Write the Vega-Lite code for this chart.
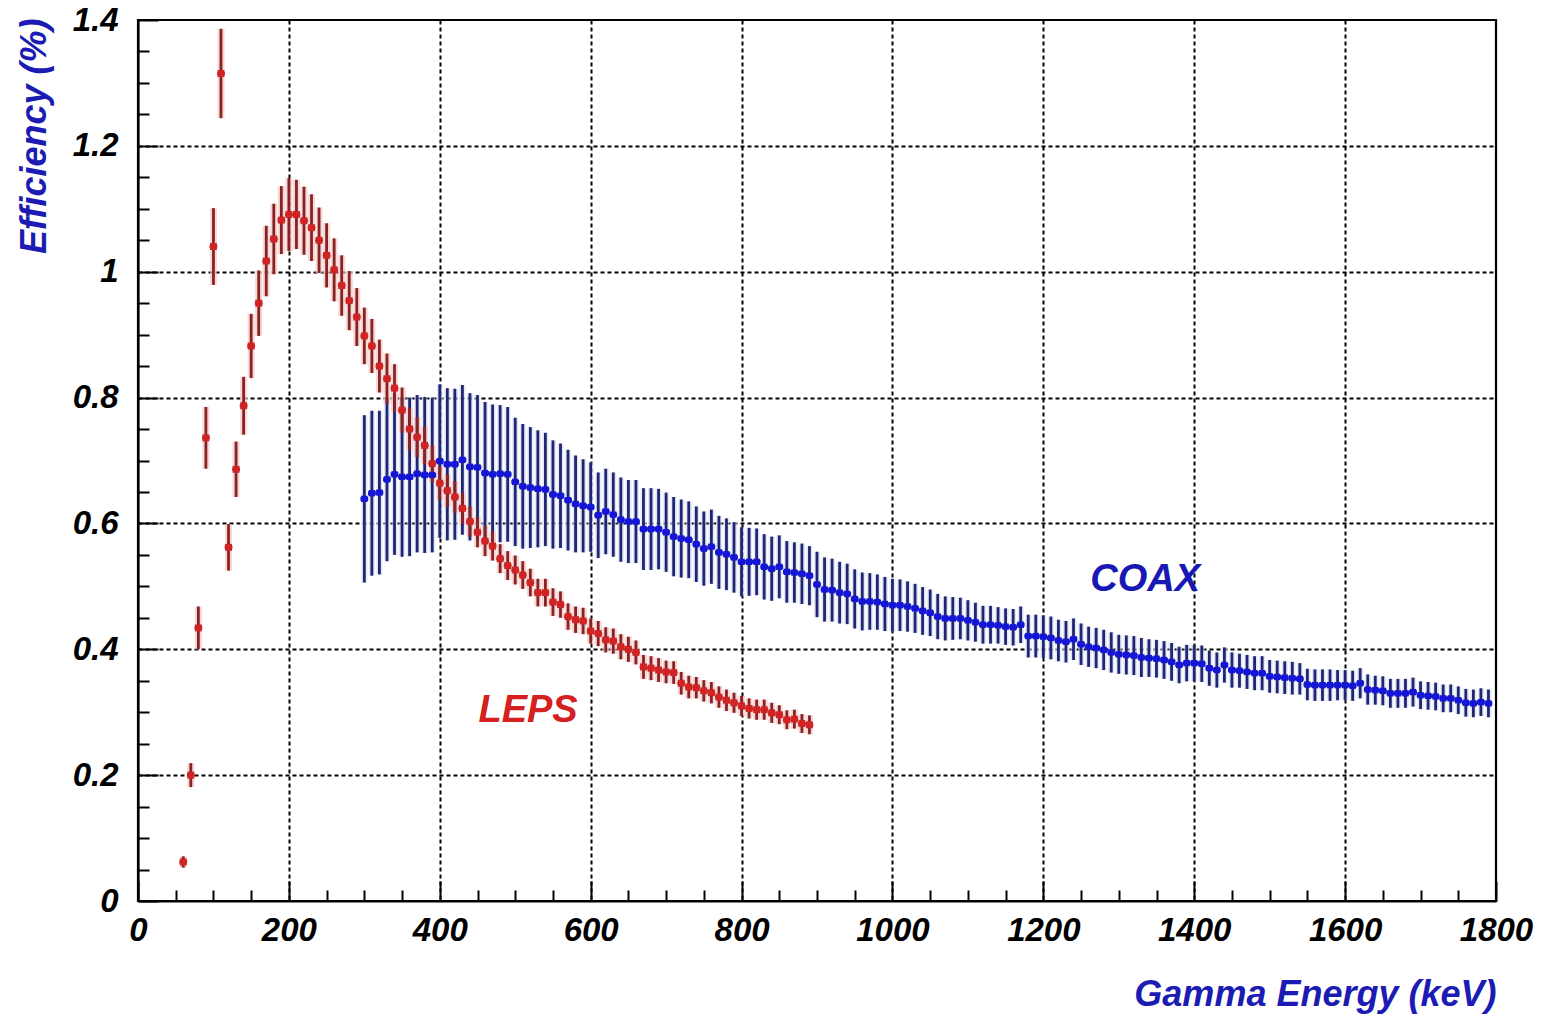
{
  "$schema": "https://vega.github.io/schema/vega-lite/v6.json",
  "width": 1358,
  "height": 881,
  "autosize": {"type": "none"},
  "padding": {"left": 138, "top": 20, "right": 62, "bottom": 116},
  "background": "white",
  "config": {
    "view": {"stroke": "black", "strokeWidth": 2.2},
    "axis": {
      "labelFont": "Liberation Sans",
      "labelFontWeight": "bold",
      "labelFontStyle": "italic",
      "labelFontSize": 33,
      "labelColor": "black",
      "titleFont": "Liberation Sans",
      "titleFontWeight": "bold",
      "titleFontStyle": "italic",
      "titleFontSize": 36,
      "titleColor": "#1c1cb4",
      "domainColor": "black",
      "domainWidth": 2.2,
      "tickColor": "black",
      "tickWidth": 2,
      "gridColor": "black",
      "gridDash": [4, 3],
      "gridWidth": 2
    }
  },
  "datasets": {
    "leps": [
      {"E": 60, "eff": 0.062, "err": 0.009},
      {"E": 70, "eff": 0.200, "err": 0.019},
      {"E": 80, "eff": 0.434, "err": 0.034},
      {"E": 90, "eff": 0.736, "err": 0.049},
      {"E": 100, "eff": 1.040, "err": 0.061},
      {"E": 110, "eff": 1.315, "err": 0.071},
      {"E": 120, "eff": 0.562, "err": 0.037},
      {"E": 130, "eff": 0.686, "err": 0.044},
      {"E": 140, "eff": 0.787, "err": 0.046},
      {"E": 150, "eff": 0.882, "err": 0.051},
      {"E": 160, "eff": 0.950, "err": 0.052},
      {"E": 170, "eff": 1.017, "err": 0.056},
      {"E": 180, "eff": 1.052, "err": 0.056},
      {"E": 190, "eff": 1.082, "err": 0.054},
      {"E": 200, "eff": 1.091, "err": 0.058},
      {"E": 210, "eff": 1.091, "err": 0.055},
      {"E": 220, "eff": 1.081, "err": 0.054},
      {"E": 230, "eff": 1.070, "err": 0.053},
      {"E": 240, "eff": 1.050, "err": 0.052},
      {"E": 250, "eff": 1.026, "err": 0.051},
      {"E": 260, "eff": 1.003, "err": 0.050},
      {"E": 270, "eff": 0.978, "err": 0.048},
      {"E": 280, "eff": 0.954, "err": 0.047},
      {"E": 290, "eff": 0.928, "err": 0.046},
      {"E": 300, "eff": 0.898, "err": 0.045},
      {"E": 310, "eff": 0.882, "err": 0.043},
      {"E": 320, "eff": 0.850, "err": 0.042},
      {"E": 330, "eff": 0.830, "err": 0.040},
      {"E": 340, "eff": 0.815, "err": 0.038},
      {"E": 350, "eff": 0.780, "err": 0.036},
      {"E": 360, "eff": 0.750, "err": 0.034},
      {"E": 370, "eff": 0.737, "err": 0.032},
      {"E": 380, "eff": 0.724, "err": 0.030},
      {"E": 390, "eff": 0.695, "err": 0.029},
      {"E": 400, "eff": 0.664, "err": 0.027},
      {"E": 410, "eff": 0.652, "err": 0.026},
      {"E": 420, "eff": 0.642, "err": 0.025},
      {"E": 430, "eff": 0.624, "err": 0.025},
      {"E": 440, "eff": 0.603, "err": 0.024},
      {"E": 450, "eff": 0.586, "err": 0.024},
      {"E": 460, "eff": 0.572, "err": 0.024},
      {"E": 470, "eff": 0.564, "err": 0.023},
      {"E": 480, "eff": 0.544, "err": 0.023},
      {"E": 490, "eff": 0.533, "err": 0.023},
      {"E": 500, "eff": 0.526, "err": 0.023},
      {"E": 510, "eff": 0.518, "err": 0.022},
      {"E": 520, "eff": 0.506, "err": 0.022},
      {"E": 530, "eff": 0.490, "err": 0.022},
      {"E": 540, "eff": 0.490, "err": 0.022},
      {"E": 550, "eff": 0.475, "err": 0.022},
      {"E": 560, "eff": 0.471, "err": 0.021},
      {"E": 570, "eff": 0.452, "err": 0.021},
      {"E": 580, "eff": 0.447, "err": 0.021},
      {"E": 590, "eff": 0.445, "err": 0.021},
      {"E": 600, "eff": 0.429, "err": 0.020},
      {"E": 610, "eff": 0.425, "err": 0.020},
      {"E": 620, "eff": 0.415, "err": 0.020},
      {"E": 630, "eff": 0.413, "err": 0.020},
      {"E": 640, "eff": 0.404, "err": 0.020},
      {"E": 650, "eff": 0.400, "err": 0.020},
      {"E": 660, "eff": 0.395, "err": 0.019},
      {"E": 670, "eff": 0.372, "err": 0.019},
      {"E": 680, "eff": 0.370, "err": 0.019},
      {"E": 690, "eff": 0.367, "err": 0.019},
      {"E": 700, "eff": 0.364, "err": 0.018},
      {"E": 710, "eff": 0.363, "err": 0.018},
      {"E": 720, "eff": 0.346, "err": 0.018},
      {"E": 730, "eff": 0.340, "err": 0.018},
      {"E": 740, "eff": 0.339, "err": 0.017},
      {"E": 750, "eff": 0.334, "err": 0.017},
      {"E": 760, "eff": 0.331, "err": 0.017},
      {"E": 770, "eff": 0.324, "err": 0.017},
      {"E": 780, "eff": 0.319, "err": 0.017},
      {"E": 790, "eff": 0.315, "err": 0.016},
      {"E": 800, "eff": 0.310, "err": 0.016},
      {"E": 810, "eff": 0.306, "err": 0.016},
      {"E": 820, "eff": 0.304, "err": 0.016},
      {"E": 830, "eff": 0.304, "err": 0.016},
      {"E": 840, "eff": 0.299, "err": 0.016},
      {"E": 850, "eff": 0.296, "err": 0.015},
      {"E": 860, "eff": 0.288, "err": 0.015},
      {"E": 870, "eff": 0.289, "err": 0.015},
      {"E": 880, "eff": 0.282, "err": 0.015},
      {"E": 890, "eff": 0.280, "err": 0.015}
    ],
    "coax": [
      {"E": 300, "eff": 0.639, "err": 0.133},
      {"E": 310, "eff": 0.648, "err": 0.131},
      {"E": 320, "eff": 0.649, "err": 0.130},
      {"E": 330, "eff": 0.670, "err": 0.130},
      {"E": 340, "eff": 0.678, "err": 0.128},
      {"E": 350, "eff": 0.674, "err": 0.127},
      {"E": 360, "eff": 0.674, "err": 0.126},
      {"E": 370, "eff": 0.679, "err": 0.125},
      {"E": 380, "eff": 0.677, "err": 0.124},
      {"E": 390, "eff": 0.677, "err": 0.123},
      {"E": 400, "eff": 0.699, "err": 0.122},
      {"E": 410, "eff": 0.694, "err": 0.121},
      {"E": 420, "eff": 0.694, "err": 0.120},
      {"E": 430, "eff": 0.701, "err": 0.119},
      {"E": 440, "eff": 0.690, "err": 0.117},
      {"E": 450, "eff": 0.689, "err": 0.115},
      {"E": 460, "eff": 0.680, "err": 0.113},
      {"E": 470, "eff": 0.678, "err": 0.111},
      {"E": 480, "eff": 0.679, "err": 0.109},
      {"E": 490, "eff": 0.678, "err": 0.107},
      {"E": 500, "eff": 0.666, "err": 0.102},
      {"E": 510, "eff": 0.659, "err": 0.099},
      {"E": 520, "eff": 0.657, "err": 0.096},
      {"E": 530, "eff": 0.655, "err": 0.093},
      {"E": 540, "eff": 0.654, "err": 0.090},
      {"E": 550, "eff": 0.646, "err": 0.086},
      {"E": 560, "eff": 0.644, "err": 0.083},
      {"E": 570, "eff": 0.637, "err": 0.080},
      {"E": 580, "eff": 0.631, "err": 0.077},
      {"E": 590, "eff": 0.628, "err": 0.074},
      {"E": 600, "eff": 0.626, "err": 0.071},
      {"E": 610, "eff": 0.613, "err": 0.068},
      {"E": 620, "eff": 0.619, "err": 0.068},
      {"E": 630, "eff": 0.614, "err": 0.067},
      {"E": 640, "eff": 0.606, "err": 0.067},
      {"E": 650, "eff": 0.603, "err": 0.066},
      {"E": 660, "eff": 0.603, "err": 0.066},
      {"E": 670, "eff": 0.591, "err": 0.065},
      {"E": 680, "eff": 0.591, "err": 0.065},
      {"E": 690, "eff": 0.591, "err": 0.064},
      {"E": 700, "eff": 0.586, "err": 0.063},
      {"E": 710, "eff": 0.579, "err": 0.063},
      {"E": 720, "eff": 0.576, "err": 0.062},
      {"E": 730, "eff": 0.574, "err": 0.061},
      {"E": 740, "eff": 0.567, "err": 0.060},
      {"E": 750, "eff": 0.560, "err": 0.059},
      {"E": 760, "eff": 0.563, "err": 0.059},
      {"E": 770, "eff": 0.554, "err": 0.058},
      {"E": 780, "eff": 0.551, "err": 0.057},
      {"E": 790, "eff": 0.546, "err": 0.056},
      {"E": 800, "eff": 0.539, "err": 0.055},
      {"E": 810, "eff": 0.539, "err": 0.054},
      {"E": 820, "eff": 0.539, "err": 0.053},
      {"E": 830, "eff": 0.531, "err": 0.052},
      {"E": 840, "eff": 0.528, "err": 0.051},
      {"E": 850, "eff": 0.531, "err": 0.050},
      {"E": 860, "eff": 0.523, "err": 0.049},
      {"E": 870, "eff": 0.522, "err": 0.048},
      {"E": 880, "eff": 0.520, "err": 0.048},
      {"E": 890, "eff": 0.517, "err": 0.047},
      {"E": 900, "eff": 0.503, "err": 0.052},
      {"E": 910, "eff": 0.495, "err": 0.051},
      {"E": 920, "eff": 0.494, "err": 0.050},
      {"E": 930, "eff": 0.490, "err": 0.049},
      {"E": 940, "eff": 0.488, "err": 0.048},
      {"E": 950, "eff": 0.480, "err": 0.047},
      {"E": 960, "eff": 0.476, "err": 0.046},
      {"E": 970, "eff": 0.476, "err": 0.045},
      {"E": 980, "eff": 0.475, "err": 0.044},
      {"E": 990, "eff": 0.472, "err": 0.043},
      {"E": 1000, "eff": 0.470, "err": 0.042},
      {"E": 1010, "eff": 0.470, "err": 0.041},
      {"E": 1020, "eff": 0.468, "err": 0.040},
      {"E": 1030, "eff": 0.465, "err": 0.039},
      {"E": 1040, "eff": 0.461, "err": 0.038},
      {"E": 1050, "eff": 0.458, "err": 0.037},
      {"E": 1060, "eff": 0.452, "err": 0.036},
      {"E": 1070, "eff": 0.449, "err": 0.035},
      {"E": 1080, "eff": 0.449, "err": 0.034},
      {"E": 1090, "eff": 0.449, "err": 0.033},
      {"E": 1100, "eff": 0.446, "err": 0.032},
      {"E": 1110, "eff": 0.443, "err": 0.031},
      {"E": 1120, "eff": 0.439, "err": 0.030},
      {"E": 1130, "eff": 0.439, "err": 0.030},
      {"E": 1140, "eff": 0.438, "err": 0.029},
      {"E": 1150, "eff": 0.436, "err": 0.029},
      {"E": 1160, "eff": 0.435, "err": 0.029},
      {"E": 1170, "eff": 0.439, "err": 0.029},
      {"E": 1180, "eff": 0.421, "err": 0.034},
      {"E": 1190, "eff": 0.421, "err": 0.034},
      {"E": 1200, "eff": 0.420, "err": 0.034},
      {"E": 1210, "eff": 0.418, "err": 0.034},
      {"E": 1220, "eff": 0.414, "err": 0.033},
      {"E": 1230, "eff": 0.412, "err": 0.033},
      {"E": 1240, "eff": 0.416, "err": 0.033},
      {"E": 1250, "eff": 0.408, "err": 0.033},
      {"E": 1260, "eff": 0.404, "err": 0.032},
      {"E": 1270, "eff": 0.402, "err": 0.032},
      {"E": 1280, "eff": 0.399, "err": 0.032},
      {"E": 1290, "eff": 0.395, "err": 0.032},
      {"E": 1300, "eff": 0.392, "err": 0.031},
      {"E": 1310, "eff": 0.391, "err": 0.031},
      {"E": 1320, "eff": 0.390, "err": 0.031},
      {"E": 1330, "eff": 0.387, "err": 0.031},
      {"E": 1340, "eff": 0.386, "err": 0.030},
      {"E": 1350, "eff": 0.385, "err": 0.030},
      {"E": 1360, "eff": 0.383, "err": 0.030},
      {"E": 1370, "eff": 0.380, "err": 0.030},
      {"E": 1380, "eff": 0.375, "err": 0.029},
      {"E": 1390, "eff": 0.378, "err": 0.029},
      {"E": 1400, "eff": 0.378, "err": 0.029},
      {"E": 1410, "eff": 0.377, "err": 0.029},
      {"E": 1420, "eff": 0.370, "err": 0.028},
      {"E": 1430, "eff": 0.367, "err": 0.028},
      {"E": 1440, "eff": 0.375, "err": 0.028},
      {"E": 1450, "eff": 0.367, "err": 0.028},
      {"E": 1460, "eff": 0.366, "err": 0.027},
      {"E": 1470, "eff": 0.364, "err": 0.027},
      {"E": 1480, "eff": 0.362, "err": 0.027},
      {"E": 1490, "eff": 0.362, "err": 0.027},
      {"E": 1500, "eff": 0.357, "err": 0.026},
      {"E": 1510, "eff": 0.356, "err": 0.026},
      {"E": 1520, "eff": 0.355, "err": 0.026},
      {"E": 1530, "eff": 0.354, "err": 0.026},
      {"E": 1540, "eff": 0.353, "err": 0.025},
      {"E": 1550, "eff": 0.344, "err": 0.025},
      {"E": 1560, "eff": 0.343, "err": 0.025},
      {"E": 1570, "eff": 0.343, "err": 0.025},
      {"E": 1580, "eff": 0.343, "err": 0.025},
      {"E": 1590, "eff": 0.343, "err": 0.024},
      {"E": 1600, "eff": 0.343, "err": 0.024},
      {"E": 1610, "eff": 0.342, "err": 0.024},
      {"E": 1620, "eff": 0.346, "err": 0.024},
      {"E": 1630, "eff": 0.336, "err": 0.024},
      {"E": 1640, "eff": 0.335, "err": 0.023},
      {"E": 1650, "eff": 0.334, "err": 0.023},
      {"E": 1660, "eff": 0.330, "err": 0.023},
      {"E": 1670, "eff": 0.330, "err": 0.023},
      {"E": 1680, "eff": 0.330, "err": 0.023},
      {"E": 1690, "eff": 0.332, "err": 0.023},
      {"E": 1700, "eff": 0.327, "err": 0.022},
      {"E": 1710, "eff": 0.326, "err": 0.022},
      {"E": 1720, "eff": 0.325, "err": 0.022},
      {"E": 1730, "eff": 0.322, "err": 0.022},
      {"E": 1740, "eff": 0.322, "err": 0.022},
      {"E": 1750, "eff": 0.319, "err": 0.022},
      {"E": 1760, "eff": 0.315, "err": 0.022},
      {"E": 1770, "eff": 0.314, "err": 0.022},
      {"E": 1780, "eff": 0.316, "err": 0.022},
      {"E": 1790, "eff": 0.314, "err": 0.022}
    ]
  },
  "encoding": {
    "x": {
      "field": "E",
      "type": "quantitative",
      "scale": {"domain": [0, 1800], "nice": false, "zero": false},
      "axis": {
        "title": "Gamma Energy (keV)",
        "values": [0,50,100,150,200,250,300,350,400,450,500,550,600,650,700,750,800,850,900,950,1000,1050,1100,1150,1200,1250,1300,1350,1400,1450,1500,1550,1600,1650,1700,1750,1800],
        "format": "d",
        "labelExpr": "datum.value % 200 === 0 ? datum.label : ''",
        "labelPadding": 33,
        "labelFlush": false,
        "labelOverlap": false,
        "grid": true,
        "gridOpacity": {"condition": {"test": "datum.value % 200 === 0 && datum.value > 0 && datum.value < 1800", "value": 1}, "value": 0},
        "tickSize": {"condition": {"test": "datum.value % 200 === 0", "value": -20}, "value": -11},
        "titleAnchor": "end",
        "titleAlign": "right",
        "titleBaseline": "alphabetic",
        "titleX": 1358,
        "titleY": 104
      }
    },
    "y": {
      "field": "eff",
      "type": "quantitative",
      "scale": {"domain": [0, 1.4], "nice": false, "zero": false},
      "axis": {
        "title": "Efficiency (%)",
        "values": [0,0.05,0.1,0.15,0.2,0.25,0.3,0.35,0.4,0.45,0.5,0.55,0.6,0.65,0.7,0.75,0.8,0.85,0.9,0.95,1,1.05,1.1,1.15,1.2,1.25,1.3,1.35,1.4],
        "format": "~g",
        "labelExpr": "abs(datum.value * 5 - round(datum.value * 5)) < 0.001 ? datum.label : ''",
        "labelPadding": 40,
        "labelFlush": false,
        "labelOverlap": false,
        "grid": true,
        "gridOpacity": {"condition": {"test": "abs(datum.value * 5 - round(datum.value * 5)) < 0.001 && datum.value > 0.01 && datum.value < 1.39", "value": 1}, "value": 0},
        "tickSize": {"condition": {"test": "abs(datum.value * 5 - round(datum.value * 5)) < 0.001", "value": -20}, "value": -11},
        "titleAnchor": "end",
        "titleAlign": "right",
        "titleBaseline": "alphabetic",
        "titleAngle": -90,
        "titleX": -93,
        "titleY": -2
      }
    }
  },
  "layer": [
    {
      "data": {"name": "coax"},
      "mark": {"type": "errorbar", "thickness": 6, "color": "#d4d6f4", "opacity": 0.6},
      "encoding": {"yError": {"field": "err"}}
    },
    {
      "data": {"name": "leps"},
      "mark": {"type": "errorbar", "thickness": 7, "color": "#f6c6c6", "opacity": 0.7},
      "encoding": {"yError": {"field": "err"}}
    },
    {
      "data": {"name": "coax"},
      "mark": {"type": "errorbar", "thickness": 2.8, "color": "#1e2870"},
      "encoding": {"yError": {"field": "err"}}
    },
    {
      "data": {"name": "leps"},
      "mark": {"type": "errorbar", "thickness": 2.8, "color": "#862424"},
      "encoding": {"yError": {"field": "err"}}
    },
    {
      "data": {"name": "coax"},
      "mark": {"type": "tick", "orient": "horizontal", "size": 7.8, "thickness": 4, "color": "#1515d6", "opacity": 1}
    },
    {
      "data": {"name": "coax"},
      "mark": {"type": "point", "shape": "square", "filled": true, "size": 40, "color": "#1515d6", "opacity": 1}
    },
    {
      "data": {"name": "leps"},
      "mark": {"type": "tick", "orient": "horizontal", "size": 7.8, "thickness": 3, "color": "#d02424", "opacity": 1}
    },
    {
      "data": {"name": "leps"},
      "mark": {"type": "point", "shape": "square", "filled": true, "size": 48, "color": "#d02424", "opacity": 1}
    },
    {
      "data": {"values": [{"label": "LEPS", "E": 517, "eff": 0.302}]},
      "mark": {"type": "text", "font": "Liberation Sans", "fontWeight": "bold", "fontStyle": "italic", "fontSize": 38, "color": "#d42020", "align": "center", "baseline": "middle"},
      "encoding": {"text": {"field": "label"}}
    },
    {
      "data": {"values": [{"label": "COAX", "E": 1335, "eff": 0.51}]},
      "mark": {"type": "text", "font": "Liberation Sans", "fontWeight": "bold", "fontStyle": "italic", "fontSize": 38, "color": "#1818b4", "align": "center", "baseline": "middle"},
      "encoding": {"text": {"field": "label"}}
    }
  ]
}
